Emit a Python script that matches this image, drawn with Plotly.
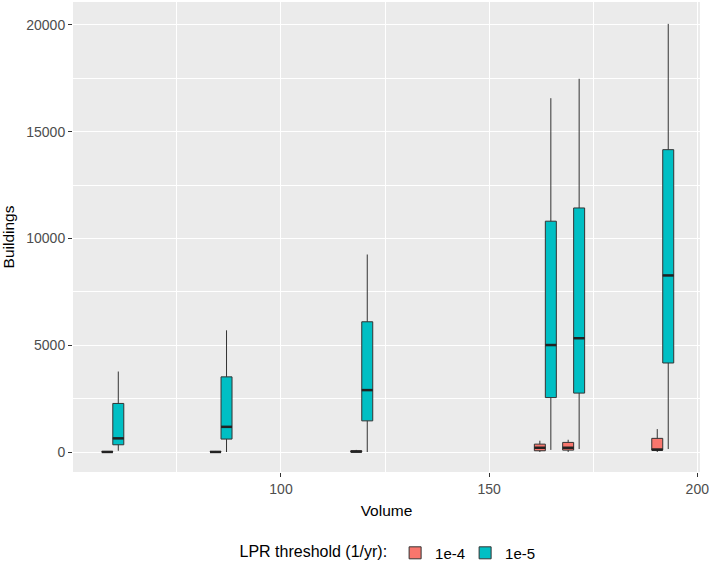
import plotly.graph_objects as go

# Data
volumes = [59.6, 85.6, 119.4, 163.5, 170.3, 191.7]
groups = ["1e-4", "1e-5"]

# 1e-4 series stats
r_low = [0, 0, 0, 0, 0, 0]
r_q1 = [0, 0, 0, 60, 90, 90]
r_med = [5, 5, 20, 200, 200, 110]
r_q3 = [20, 25, 60, 370, 450, 640]
r_high = [40, 50, 100, 530, 575, 1075]

# 1e-5 series stats
t_low = [60, 0, 0, 100, 140, 140]
t_q1 = [340, 607, 1460, 2550, 2760, 4170]
t_med = [640, 1180, 2900, 5010, 5330, 8270]
t_q3 = [2275, 3520, 6100, 10810, 11430, 14160]
t_high = [3770, 5700, 9250, 16570, 17480, 20050]

y_ticks = [0, 5000, 10000, 15000, 20000]
x_ticks = [100, 150, 200]

colors = ["#F8766D", "#00BFC4"]
box_w = 2.64
dodge = 1.32

fig = go.Figure()
series = [
    (groups[0], r_low, r_q1, r_med, r_q3, r_high, -dodge, colors[0]),
    (groups[1], t_low, t_q1, t_med, t_q3, t_high, dodge, colors[1]),
]
for name, lo, q1, med, q3, hi, off, col in series:
    xs = [v + off for v in volumes]
    fig.add_trace(go.Box(
        name=name, x=xs, q1=q1, median=med, q3=q3,
        lowerfence=lo, upperfence=hi, width=box_w,
        fillcolor=col, line=dict(color="#333333", width=1),
        whiskerwidth=0, boxpoints=False, showlegend=True,
    ))
for name, lo, q1, med, q3, hi, off, col in series:
    mx, my = [], []
    for v, m in zip(volumes, med):
        mx += [v + off - box_w / 2, v + off + box_w / 2, None]
        my += [m, m, None]
    fig.add_trace(go.Scatter(x=mx, y=my, mode="lines",
                             line=dict(color="#222222", width=2.5),
                             showlegend=False, hoverinfo="skip"))

fig.update_layout(
    width=709, height=570,
    margin=dict(l=73, r=9, t=2, b=97),
    paper_bgcolor="white", plot_bgcolor="#EBEBEB",
    font=dict(family="Liberation Sans, Arial, sans-serif", color="#000000"),
    boxmode="overlay",
    legend=dict(orientation="h", x=0.5, xanchor="center", y=-0.17, yanchor="middle",
                title=dict(text="LPR threshold (1/yr):", font=dict(size=16, color="#000")),
                font=dict(size=15, color="#000"), bgcolor="rgba(0,0,0,0)",
                entrywidth=25, itemwidth=30),
    xaxis=dict(
        range=[50.04, 200.65], tickvals=x_ticks, ticktext=[str(t) for t in x_ticks],
        showgrid=True, gridcolor="white", gridwidth=1.3, zeroline=False,
        ticks="outside", ticklen=4, tickcolor="#333333", tickwidth=1,
        tickfont=dict(size=14, color="#4D4D4D"), ticklabeloverflow="allow",
        minor=dict(tickvals=[75, 125, 175], showgrid=True, gridcolor="white", gridwidth=0.7, ticks=""),
        title=dict(text="Volume", font=dict(size=15.5, color="#000"), standoff=9),
        showline=False, automargin=False,
    ),
    yaxis=dict(
        range=[-935, 21075], tickvals=y_ticks, ticktext=[str(t) for t in y_ticks],
        showgrid=True, gridcolor="white", gridwidth=1.3, zeroline=False,
        ticks="outside", ticklen=4, tickcolor="#333333", tickwidth=1,
        tickfont=dict(size=14, color="#4D4D4D"),
        minor=dict(tickvals=[2500, 7500, 12500, 17500], showgrid=True, gridcolor="white", gridwidth=0.7, ticks=""),
        title=dict(text="Buildings", font=dict(size=15.5, color="#000"), standoff=8),
        showline=False, automargin=False,
    ),
)

fig.write_html("out.html", config={"displayModeBar": False},
               post_script="document.body.style.margin='0';")
